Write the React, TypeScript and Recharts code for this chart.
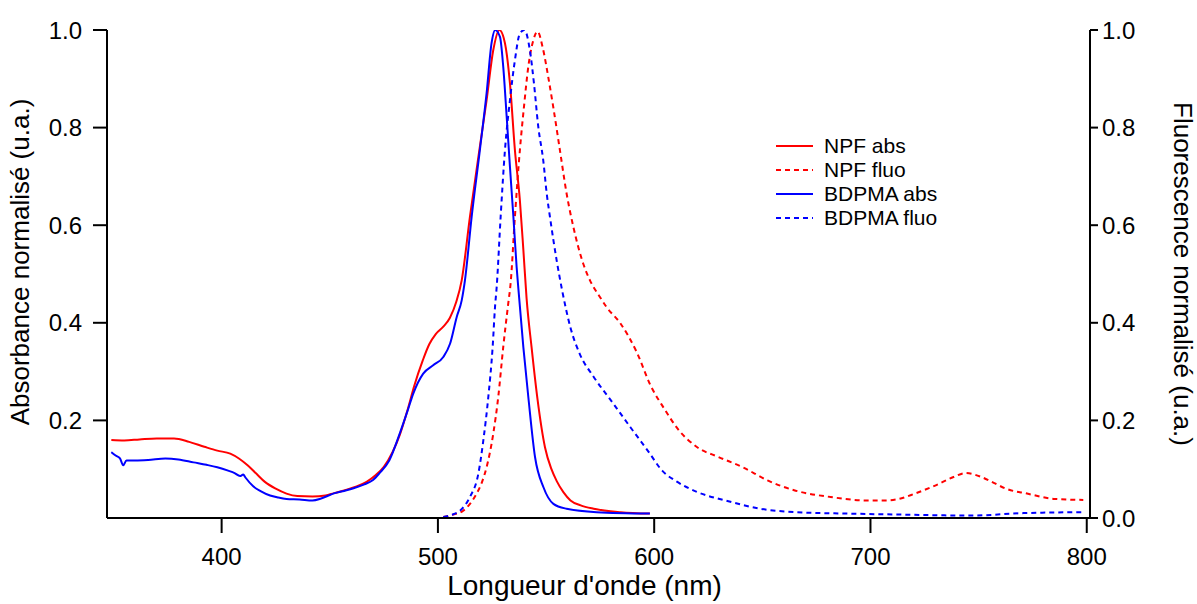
import React from 'react';
import { ComposedChart, Line, XAxis, YAxis, Legend } from 'recharts';

const FONT = '"Liberation Sans", Arial, Helvetica, sans-serif';

// wavelength (nm), normalised value
const npfAbs: [number, number][] = [
  [349, 0.16], [355, 0.159], [362, 0.161], [370, 0.163], [378, 0.163], [385, 0.156],
  [392, 0.146], [398, 0.138], [404, 0.132], [408, 0.122], [412, 0.108], [416, 0.091],
  [420, 0.074], [425, 0.06], [430, 0.05], [435, 0.045], [442, 0.044], [448, 0.046],
  [452, 0.051], [457, 0.057], [462, 0.064], [467, 0.074], [471, 0.087], [475, 0.105],
  [479, 0.135], [482.5, 0.172], [486, 0.222], [489, 0.27], [493, 0.323], [496, 0.356],
  [499, 0.377], [502.5, 0.392], [505.5, 0.41], [508.5, 0.443], [511, 0.487], [514.8, 0.617],
  [519.4, 0.761], [522.5, 0.856], [525.6, 0.959], [528.4, 1.0], [531, 0.973], [533.3, 0.891],
  [535.6, 0.754], [537.9, 0.651], [539.5, 0.55], [541, 0.45], [543.3, 0.35], [546, 0.245],
  [549.5, 0.145], [552.5, 0.1], [555, 0.075], [558, 0.053], [561.3, 0.036], [566, 0.026],
  [572, 0.019], [584.5, 0.012], [598, 0.009],
];

const npfFluo: [number, number][] = [
  [502.5, 0.002], [507, 0.007], [511.7, 0.015], [515, 0.03], [517.9, 0.05], [520.5, 0.075],
  [522.5, 0.104], [525.6, 0.173], [527.9, 0.248], [530.2, 0.35], [532.5, 0.439], [533.6, 0.48],
  [535.6, 0.617], [537.9, 0.754], [539.8, 0.843], [541.8, 0.925], [544.1, 0.979], [546, 0.997],
  [548.7, 0.959], [551, 0.904], [553.3, 0.843], [556.4, 0.754], [559.5, 0.665], [562.6, 0.597],
  [567.2, 0.521], [570.3, 0.487], [574.9, 0.453], [578, 0.432], [584.2, 0.4], [591.9, 0.34],
  [598.5, 0.27], [604.5, 0.225], [611, 0.182], [619.9, 0.145], [629.7, 0.125], [641, 0.104],
  [652.4, 0.077], [665.4, 0.056], [681.6, 0.043], [697.8, 0.036], [707.5, 0.036], [714, 0.04],
  [720.5, 0.05], [730.2, 0.067], [738.4, 0.084], [744, 0.092], [751.3, 0.084], [757, 0.072],
  [762.7, 0.06], [772.4, 0.05], [785.4, 0.039], [798.4, 0.037],
];

const bdpmaAbs: [number, number][] = [
  [349, 0.135], [351, 0.128], [353, 0.122], [354.5, 0.108], [356, 0.118], [360, 0.118],
  [366, 0.119], [374, 0.122], [380, 0.12], [387, 0.114], [393, 0.109], [398, 0.104],
  [403, 0.097], [406, 0.092], [408.5, 0.086], [410, 0.089], [411, 0.083], [414.6, 0.065],
  [418, 0.055], [422.4, 0.046], [426, 0.042], [430, 0.039], [436, 0.038], [442, 0.036],
  [446, 0.04], [451.6, 0.05], [456, 0.055], [461, 0.061], [466, 0.069], [470, 0.078],
  [473, 0.092], [477.5, 0.118], [482.5, 0.175], [486, 0.22], [488.6, 0.255], [493.2, 0.296],
  [497.8, 0.313], [502.5, 0.33], [505.6, 0.357], [508.7, 0.412], [511, 0.446], [512.5, 0.487],
  [515.6, 0.617], [519.4, 0.754], [522.5, 0.87], [524.8, 0.973], [526.5, 1.0], [528.7, 0.986],
  [530.2, 0.925], [531.8, 0.822], [533.3, 0.72], [534.9, 0.617], [536.4, 0.514], [537.2, 0.47],
  [539.5, 0.35], [541.8, 0.248], [544.9, 0.125], [548.8, 0.063], [553.4, 0.029], [559.5, 0.019],
  [573.4, 0.012], [598, 0.009],
];

const bdpmaFluo: [number, number][] = [
  [502.5, 0.002], [506, 0.006], [510.2, 0.015], [514.8, 0.043], [518.7, 0.091], [521, 0.159],
  [523.3, 0.248], [525.3, 0.35], [526.4, 0.432], [527.2, 0.475], [529, 0.617], [531, 0.754],
  [533.3, 0.856], [535.6, 0.938], [537.9, 0.993], [540, 1.0], [542.5, 0.959], [544.4, 0.891],
  [546.4, 0.802], [548.7, 0.733], [550.3, 0.665], [551.8, 0.617], [554.9, 0.528], [557.5, 0.465],
  [561.3, 0.39], [565.7, 0.335], [571.9, 0.29], [580, 0.241], [589, 0.186], [597.5, 0.135],
  [603.7, 0.097], [610.3, 0.075], [620, 0.053], [632.9, 0.036], [649.1, 0.019], [665.4, 0.012],
  [689.7, 0.009], [714, 0.007], [746.4, 0.005], [770.8, 0.01], [798.4, 0.012],
];

const seriesNames = ['NPF abs', 'NPF fluo', 'BDPMA abs', 'BDPMA fluo'];
const xTicks = [400, 500, 600, 700, 800];
const leftTicks = [0.2, 0.4, 0.6, 0.8, 1.0];
const rightTicks = [0, 0.2, 0.4, 0.6, 0.8, 1.0];

const toPts = (a: [number, number][]) => a.map(([x, y]) => ({ x, y }));

const RED = '#ff0000';
const BLUE = '#0000ff';
const DASH = '5 4';

const LeftTitle = (props: any) => {
  const { x, y, height } = props.viewBox;
  const cx = x + 20;
  const cy = y + height / 2 - 12;
  return (
    <text x={cx} y={cy} transform={`rotate(-90, ${cx}, ${cy})`} textAnchor="middle"
      dominantBaseline="central" fontFamily={FONT} fontSize={26} fill="#000">
      Absorbance normalisé (u.a.)
    </text>
  );
};

const RightTitle = (props: any) => {
  const { x, y, height } = props.viewBox;
  const cx = x + 93;
  const cy = y + height / 2;
  return (
    <text x={cx} y={cy} transform={`rotate(90, ${cx}, ${cy})`} textAnchor="middle"
      dominantBaseline="central" fontFamily={FONT} fontSize={26} fill="#000">
      Fluorescence normalisé (u.a.)
    </text>
  );
};

const BottomTitle = (props: any) => {
  const { x, y, width } = props.viewBox;
  const cx = x + width / 2 - 14;
  const cy = y + 67;
  return (
    <text x={cx} y={cy} textAnchor="middle" dominantBaseline="central"
      fontFamily={FONT} fontSize={28} fill="#000">
      Longueur d'onde (nm)
    </text>
  );
};

const LegendContent = (props: any) => {
  const payload = [...(props.payload || [])].sort(
    (a: any, b: any) => seriesNames.indexOf(a.value) - seriesNames.indexOf(b.value)
  );
  return (
    <div style={{ fontFamily: FONT, fontSize: 21, color: '#000' }}>
      {payload.map((e: any, i: number) => (
        <div key={i} style={{ display: 'flex', alignItems: 'center', height: 24 }}>
          <svg width={38} height={24} style={{ display: 'block' }}>
            <line x1={0} y1={12} x2={37} y2={12} stroke={e.color} strokeWidth={2}
              strokeDasharray={e.payload && e.payload.strokeDasharray} />
          </svg>
          <span style={{ marginLeft: 10, lineHeight: '24px', whiteSpace: 'nowrap' }}>{e.value}</span>
        </div>
      ))}
    </div>
  );
};

const tickStyle = { fontFamily: FONT, fontSize: 24, fill: '#000' };
const axisLine = { stroke: '#000', strokeWidth: 2 };

export default function App() {
  return (
    <div style={{ position: 'absolute', left: 0, top: 0, width: 1197, height: 604, background: '#fff' }}>
      <ComposedChart width={1197} height={604} margin={{ top: 30, right: 0, bottom: 0, left: 0 }}>
        <XAxis
          dataKey="x"
          type="number"
          domain={[347, 801.5]}
          ticks={xTicks}
          allowDataOverflow
          height={86}
          tickSize={15}
          tickMargin={15}
          tick={tickStyle}
          axisLine={axisLine}
          tickLine={axisLine}
          label={<BottomTitle />}
        />
        <YAxis
          yAxisId="left"
          orientation="left"
          type="number"
          domain={[0, 1]}
          ticks={leftTicks}
          width={107}
          tickSize={14}
          tickMargin={11}
          tick={tickStyle}
          tickFormatter={(v: number) => v.toFixed(1)}
          axisLine={axisLine}
          tickLine={axisLine}
          allowDataOverflow
          label={<LeftTitle />}
        />
        <YAxis
          yAxisId="right"
          orientation="right"
          type="number"
          domain={[0, 1]}
          ticks={rightTicks}
          width={107}
          tickSize={8}
          tickMargin={4}
          tick={tickStyle}
          tickFormatter={(v: number) => v.toFixed(1)}
          axisLine={axisLine}
          tickLine={axisLine}
          allowDataOverflow
          label={<RightTitle />}
        />
        <Legend
          layout="vertical"
          align="center"
          verticalAlign="middle"
          content={<LegendContent />}
          wrapperStyle={{ left: 776, top: 134, width: 'auto', height: 'auto' }}
        />
        <Line yAxisId="left" data={toPts(npfAbs)} dataKey="y" name="NPF abs" type="monotone"
          stroke={RED} strokeWidth={2} dot={false} activeDot={false} isAnimationActive={false} />
        <Line yAxisId="right" data={toPts(npfFluo)} dataKey="y" name="NPF fluo" type="monotone"
          stroke={RED} strokeWidth={2} strokeDasharray={DASH} dot={false} activeDot={false} isAnimationActive={false} />
        <Line yAxisId="left" data={toPts(bdpmaAbs)} dataKey="y" name="BDPMA abs" type="monotone"
          stroke={BLUE} strokeWidth={2} dot={false} activeDot={false} isAnimationActive={false} />
        <Line yAxisId="right" data={toPts(bdpmaFluo)} dataKey="y" name="BDPMA fluo" type="monotone"
          stroke={BLUE} strokeWidth={2} strokeDasharray={DASH} dot={false} activeDot={false} isAnimationActive={false} />
      </ComposedChart>
    </div>
  );
}
